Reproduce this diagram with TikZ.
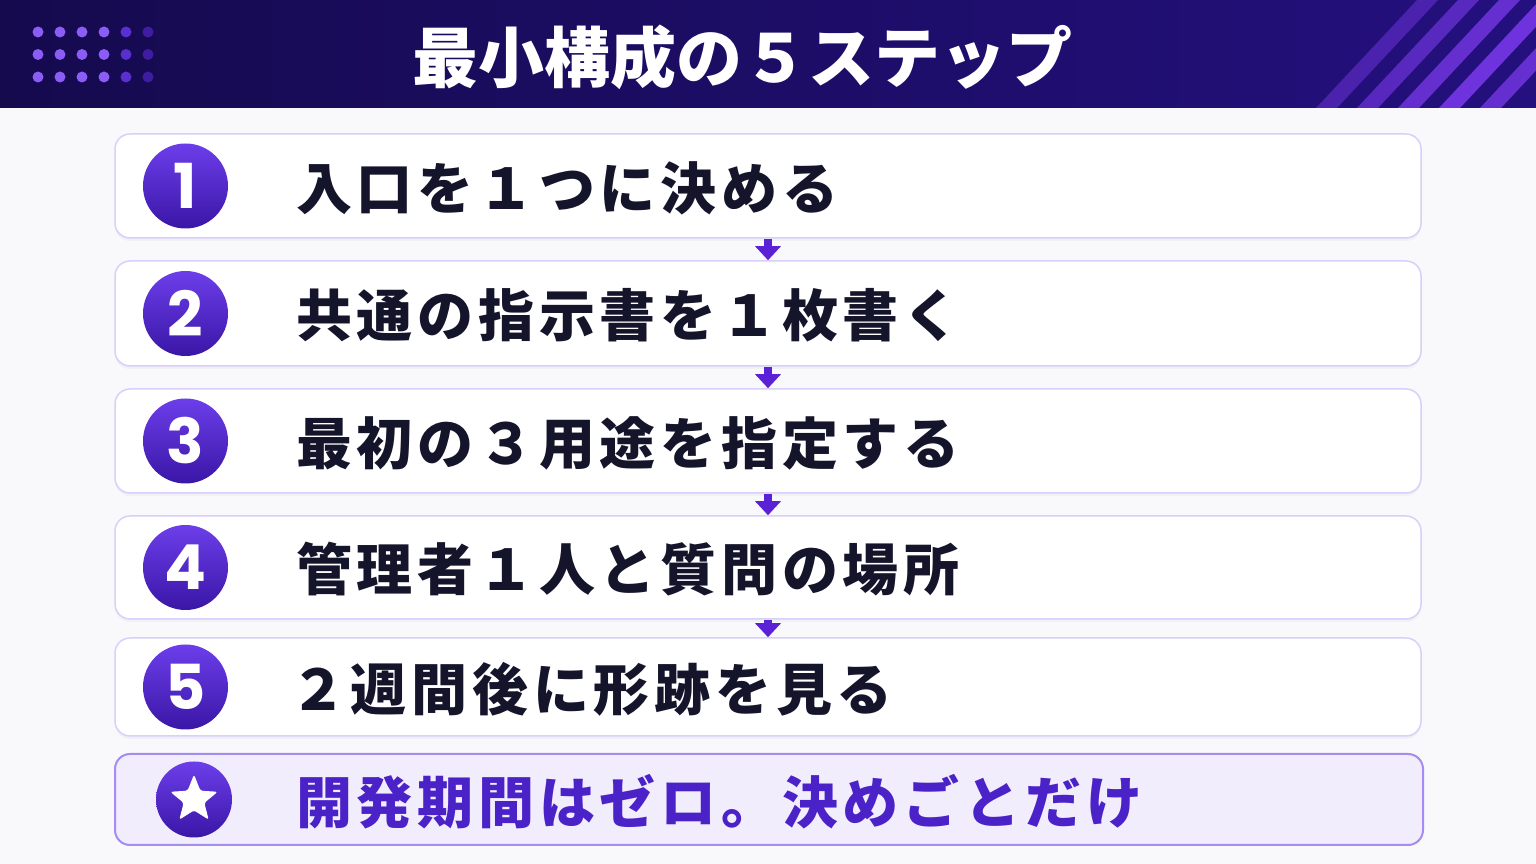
\documentclass[tikz,border=0pt]{standalone}
\usepackage{fontspec}
\usetikzlibrary{arrows.meta,shapes.geometric,shadows}
\newfontfamily\jp{Noto Sans CJK JP}
\newfontfamily\jprow{Noto Sans CJK JP}[LetterSpace=8.5]
\newfontfamily\numfont{Poppins}
\definecolor{bg}{HTML}{F9F9FB}
\definecolor{navyL}{HTML}{150A4E}
\definecolor{navyR}{HTML}{24107E}
\definecolor{stripe}{HTML}{7C3AED}
\definecolor{dotA}{HTML}{8B5CF6}
\definecolor{dotB}{HTML}{5A2FD0}
\definecolor{dotC}{HTML}{3E1DA0}
\definecolor{rim}{HTML}{D8CFFB}
\definecolor{goalrim}{HTML}{A48CF0}
\definecolor{goalfill}{HTML}{F1EDFD}
\definecolor{violet}{HTML}{5B21D6}
\definecolor{badgeT}{HTML}{6C3EEA}
\definecolor{badgeB}{HTML}{3A16A6}
\definecolor{ink}{HTML}{14142B}
\definecolor{goalink}{HTML}{4A22C8}
\begin{document}
\begin{tikzpicture}[x=1pt,y=1pt,
  stepbox/.style={draw=rim, line width=1.5pt, fill=white, rounded corners=15pt,
    minimum width=1306pt, inner sep=0pt,
    drop shadow={opacity=.06, shadow xshift=0pt, shadow yshift=-3pt}},
  goalbox/.style={draw=goalrim, line width=2pt, fill=goalfill, rounded corners=15pt,
    minimum width=1308pt, minimum height=91pt, inner sep=0pt},
  badge/.style={circle, minimum size=85pt, inner sep=0pt, top color=badgeT, bottom color=badgeB,
    text=white, font=\numfont\bfseries\fontsize{62}{62}\selectfont},
  starmark/.style={star, star points=5, star point ratio=2.3, minimum size=50pt, inner sep=0pt,
    fill=white, rounded corners=2.5pt},
  steptext/.style={anchor=west, inner sep=0pt, text=ink, font=\jprow\bfseries\fontsize{56}{60}\selectfont},
  goaltext/.style={steptext, text=goalink},
  title/.style={text=white, inner sep=0pt, font=\jp\bfseries\fontsize{66}{70}\selectfont},
  flow/.style={draw=violet, line width=8pt, -{Triangle[width=25pt,length=14pt]}}]
  \useasboundingbox (0,0) rectangle (1536,864);
  \fill[bg] (0,0) rectangle (1536,864);
  % header band
  \shade[left color=navyL, right color=navyR] (0,756) rectangle (1536,864);
  \begin{scope}
    \clip (0,756) rectangle (1536,864);
    \foreach \k/\o in {0/.45,1/.6,2/.75,3/.85,4/.75}
      \fill[stripe, opacity=\o] (1316+41*\k,756) -- ++(21,0) -- ++(101,108) -- ++(-21,0) -- cycle;
  \end{scope}
  \foreach \i/\c in {0/dotA,1/dotA,2/dotA,3/dotA,4/dotB,5/dotC} {
    \foreach \j in {0,1,2} {
      \fill[\c] (38+22*\i,832-22.5*\j) circle (5.5);
    }
  }
  \node[title] (head) at (742,807) {最小構成の５ステップ};
  % steps
  \foreach \i/\y/\h/\x/\t in {1/678/104/296/入口を１つに決める,
                              2/550.5/105/296/共通の指示書を１枚書く,
                              3/423/104/296/最初の３用途を指定する,
                              4/296.5/103/296/管理者１人と質問の場所,
                              5/177/98/290/２週間後に形跡を見る} {
    \node[stepbox, minimum height=\h] (s\i) at (768,\y) {};
    \node[badge] (c\i) at (185.5,\y) {\i};
    \node[steptext] (t\i) at (\x,\y-2) {\t};
  }
  \foreach \a/\b in {1/2,2/3,3/4,4/5}
    \draw[flow] (s\a.south) -- (s\b.north);
  % goal row
  \node[goalbox] (g) at (769,64.5) {};
  \node[badge, minimum size=76pt] (cg) at (194,64.5) {};
  \node[starmark] (sg) at (cg) {};
  \node[goaltext] (tg) at (296,62.5) {開発期間はゼロ。決めごとだけ};
\end{tikzpicture}
\end{document}
